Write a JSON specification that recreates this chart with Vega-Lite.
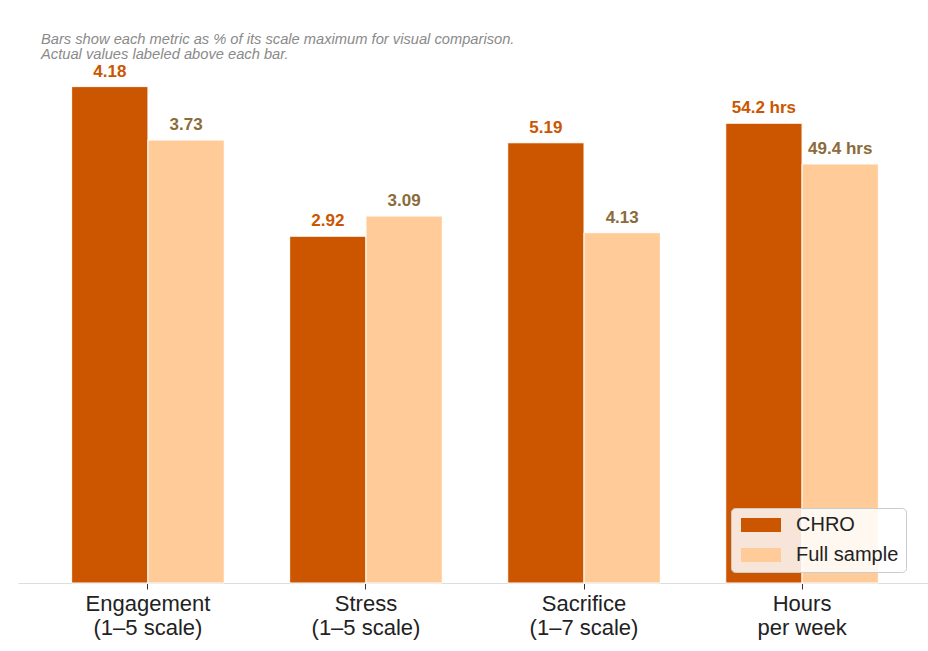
{
  "$schema": "https://vega.github.io/schema/vega-lite/v6.json",
  "width": 914,
  "height": 573,
  "autosize": {"type": "none"},
  "padding": {"left": 18, "top": 10, "right": 0, "bottom": 68},
  "config": {
    "font": "Liberation Sans",
    "view": {"stroke": null},
    "background": "white"
  },
  "title": {
    "text": ["Bars show each metric as % of its scale maximum for visual comparison.", "Actual values labeled above each bar."],
    "anchor": "start",
    "frame": "group",
    "orient": "top",
    "baseline": "top",
    "offset": -52,
    "dx": 23,
    "fontSize": 14.7,
    "fontStyle": "italic",
    "fontWeight": "normal",
    "color": "#8a8a8a",
    "lineHeight": 15
  },
  "data": {
    "values": [
      {"metric": "Engagement|(1–5 scale)", "group": "CHRO", "pct": 83.6, "label": "4.18"},
      {"metric": "Engagement|(1–5 scale)", "group": "Full sample", "pct": 74.6, "label": "3.73"},
      {"metric": "Stress|(1–5 scale)", "group": "CHRO", "pct": 58.4, "label": "2.92"},
      {"metric": "Stress|(1–5 scale)", "group": "Full sample", "pct": 61.8, "label": "3.09"},
      {"metric": "Sacrifice|(1–7 scale)", "group": "CHRO", "pct": 74.14, "label": "5.19"},
      {"metric": "Sacrifice|(1–7 scale)", "group": "Full sample", "pct": 59.0, "label": "4.13"},
      {"metric": "Hours|per week", "group": "CHRO", "pct": 77.43, "label": "54.2 hrs"},
      {"metric": "Hours|per week", "group": "Full sample", "pct": 70.57, "label": "49.4 hrs"}
    ]
  },
  "encoding": {
    "x": {
      "field": "metric",
      "type": "nominal",
      "sort": null,
      "scale": {"paddingInner": 0.3, "paddingOuter": 0.246},
      "axis": {
        "title": null,
        "labelAngle": 0,
        "labelExpr": "split(datum.label, '|')",
        "labelFontSize": 22,
        "labelColor": "#222222",
        "labelLineHeight": 24,
        "labelPadding": 4,
        "domainColor": "#dddddd",
        "tickColor": "#333333",
        "tickSize": 6,
        "grid": false
      }
    },
    "xOffset": {"field": "group", "type": "nominal", "sort": ["CHRO", "Full sample"], "scale": {"paddingInner": 0, "paddingOuter": 0}},
    "y": {
      "field": "pct",
      "type": "quantitative",
      "scale": {"domain": [0, 96.5], "nice": false},
      "axis": null
    }
  },
  "layer": [
    {
      "mark": {"type": "bar", "stroke": "white", "strokeWidth": 1},
      "encoding": {
        "color": {
          "field": "group",
          "type": "nominal",
          "scale": {"domain": ["CHRO", "Full sample"], "range": ["#CC5500", "#FFCC99"]},
          "legend": {
            "title": null,
            "orient": "none",
            "legendX": 713,
            "legendY": 498,
            "symbolType": "M-2,-0.7H2V0.7H-2Z",
            "symbolSize": 400,
            "symbolStrokeWidth": 0,
            "symbolOffset": 13,
            "labelFontSize": 20,
            "labelColor": "#222222",
            "labelOffset": 25,
            "rowPadding": 10,
            "padding": 7,
            "fillColor": "rgba(255,255,255,0.85)",
            "strokeColor": "#cccccc",
            "cornerRadius": 4
          }
        }
      }
    },
    {
      "mark": {"type": "text", "baseline": "bottom", "dy": -6, "fontSize": 17, "fontWeight": "bold"},
      "encoding": {
        "text": {"field": "label"},
        "color": {
          "field": "group",
          "type": "nominal",
          "scale": {"domain": ["CHRO", "Full sample"], "range": ["#CC5500", "#8B6B3A"]},
          "legend": null
        }
      }
    }
  ],
  "resolve": {"scale": {"color": "independent"}}
}
